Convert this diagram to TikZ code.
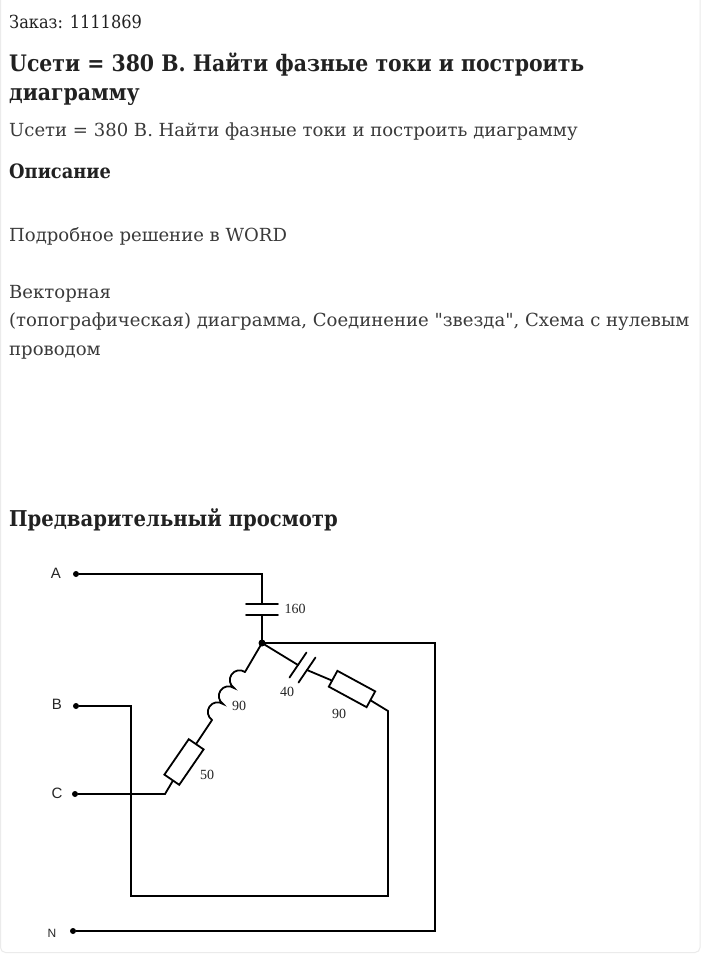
\documentclass[tikz,border=0pt]{standalone}
\usepackage{fontspec}
\newfontfamily\bodyfont{DejaVu Serif}
\newfontfamily\headfont{DejaVu Serif Condensed}
\newfontfamily\lblfont{Liberation Serif}
\newfontfamily\termfont{Liberation Sans}
\usetikzlibrary{calc}
\definecolor{ink}{HTML}{212121}
\definecolor{body}{HTML}{3A3A3A}
\tikzset{
  x=1pt,y=1pt,
  txt/.style={anchor=base west,inner sep=0pt,text=body,font=\bodyfont\fontsize{18.05}{20}\selectfont},
  head/.style={anchor=base west,inner sep=0pt,text=ink,font=\headfont\fontsize{22.7}{26}\bfseries\selectfont},
  subhead/.style={anchor=base west,inner sep=0pt,text=ink,font=\headfont\fontsize{19.8}{22}\bfseries\selectfont},
  wire/.style={draw=black,line width=1.8pt,line cap=round,line join=miter},
  term/.style={circle,fill=black,inner sep=0pt,minimum size=6pt},
  jun/.style={circle,fill=black,inner sep=0pt,minimum size=7pt},
  res/.style={draw=black,line width=1.8pt,fill=white,minimum width=43pt,minimum height=18pt,inner sep=0pt},
  val/.style={inner sep=0pt,font=\lblfont\fontsize{14}{15}\selectfont,text=black!85},
  letter/.style={inner sep=0pt,font=\termfont\fontsize{15}{16}\selectfont,text=black!85},
}
\begin{document}
\begin{tikzpicture}
\useasboundingbox (0,0) rectangle (701,-956);
\fill[white] (0,0) rectangle (701,-956);
\draw[black!8,line width=1pt,rounded corners=5pt] (0.5,8) rectangle (700,-952.5);
\node[txt,font=\headfont\fontsize{18}{20}\selectfont,text=ink] (t1) at (9,-28) {Заказ: 1111869};
\node[head] (t2) at (9,-71) {Uсети = 380 В. Найти фазные токи и построить};
\node[head] (t3) at (9,-100) {диаграмму};
\node[txt] (t4) at (9,-136) {Uсети = 380 В. Найти фазные токи и построить диаграмму};
\node[subhead] (t5) at (9,-178) {Описание};
\node[txt] (t6) at (9,-241) {Подробное решение в WORD};
\node[txt] (t7) at (9,-298) {Векторная};
\node[txt] (t8) at (9,-326) {(топографическая) диаграмма, Соединение "звезда", Схема с нулевым};
\node[txt] (t9) at (9,-355) {проводом};
\node[head,font=\headfont\fontsize{21.8}{26}\bfseries\selectfont] (t10) at (9,-526) {Предварительный просмотр};

\coordinate (J) at (262,-643);
\coordinate (Acorner) at (262,-574);
\coordinate (capT) at (262,-604);
\coordinate (capB) at (262,-615);
\coordinate (Ncorner1) at (435,-643);
\coordinate (Ncorner2) at (435,-931);
\coordinate (Bc1) at (131,-706);
\coordinate (Bc2) at (131,-896);
\coordinate (Bc3) at (388,-896);
\coordinate (Rend) at (388,-711);
\coordinate (Cc) at (165,-794);
\coordinate (Lt) at (245,-672);
\coordinate (Lb) at (212,-720);
\coordinate (pl1) at (298,-665);
\coordinate (pl2) at (307,-670);

\node[term] (A) at (76,-574) {};
\node[term] (B) at (76,-706) {};
\node[term] (C) at (75,-794) {};
\node[term] (N) at (73,-931) {};
\node[jun] (Jd) at (J) {};
\node[res,rotate=55.5] (R1) at (184,-762) {};
\node[res,rotate=-28.5] (R2) at (352,-689) {};

\draw[wire] (A) -- (Acorner) -- (capT);
\draw[wire] (capB) -- (J);
\draw[wire] (246,-604) -- (278,-604);
\draw[wire] (246,-615) -- (278,-615);
\draw[wire] (J) -- (Ncorner1) -- (Ncorner2) -- (N);
\draw[wire] (B) -- (Bc1) -- (Bc2) -- (Bc3) -- (Rend) -- (R2);
\draw[wire] (C) -- (Cc) -- (R1);
\draw[wire] (R1) -- (Lb);
\draw[wire] (J) -- (Lt);
\draw[wire,shift={(245,-672)},rotate=235.5] (0,0) arc[start angle=180,end angle=360,radius=9.7] arc[start angle=180,end angle=360,radius=9.7] arc[start angle=180,end angle=360,radius=9.7];
\draw[wire] (J) -- (pl1);
\draw[wire] (pl2) -- (R2);
\draw[wire] ($(pl1)+(-8.5,-12.5)$) -- ($(pl1)+(8.5,12.5)$);
\draw[wire] ($(pl2)+(-8.5,-12.5)$) -- ($(pl2)+(8.5,12.5)$);

\node[letter] (LA) at (56,-573) {A};
\node[letter] (LB) at (57,-704) {B};
\node[letter] (LC) at (57,-793) {C};
\node[letter,font=\termfont\fontsize{12}{13}\selectfont] (LN) at (52,-933) {N};
\node[val] (v160) at (295,-609) {160};
\node[val] (v90a) at (239,-706) {90};
\node[val] (v50) at (207,-775) {50};
\node[val] (v40) at (287,-692) {40};
\node[val] (v90b) at (339,-714) {90};
\end{tikzpicture}
\end{document}
